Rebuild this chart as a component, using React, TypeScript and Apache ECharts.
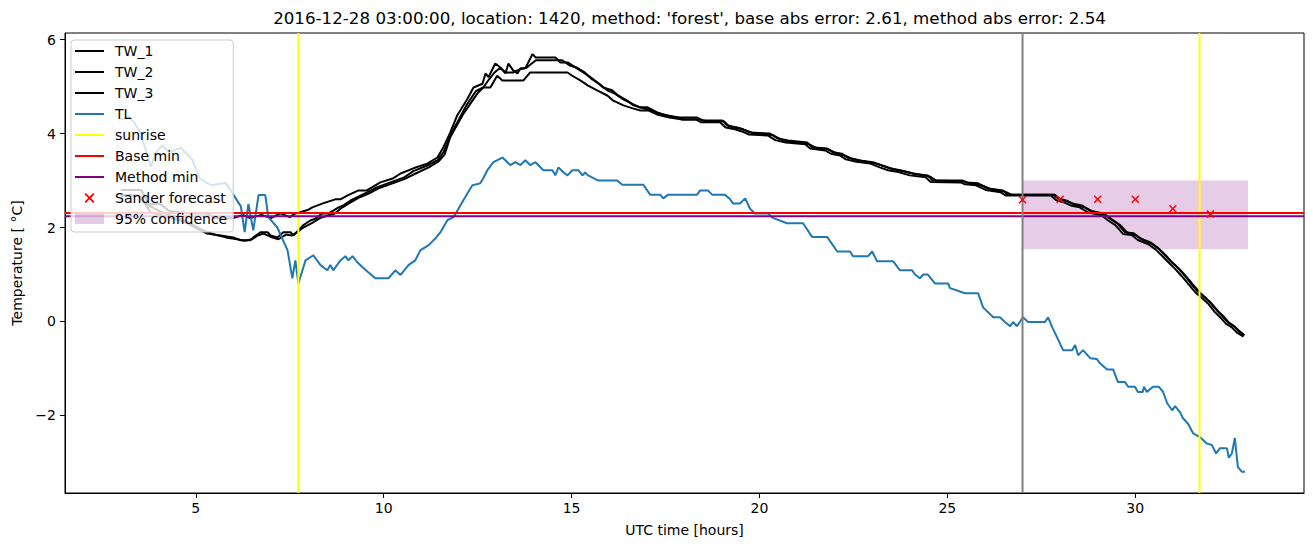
import React, { useEffect, useRef } from "react";
import * as echarts from "echarts";

// ---- data (hours, °C) ----
const TW_1: [number, number][] = [
  [3.0, 2.8], [3.55, 2.8], [3.75, 2.5], [4.05, 2.5], [4.3, 2.35], [4.9, 2.3], [5.3, 2.3], [5.5, 2.2], [6.0, 2.2],
  [6.25, 2.27], [6.45, 2.2], [6.75, 2.27], [7.0, 2.2], [7.25, 2.3], [7.5, 2.22], [7.65, 2.3], [8.0, 2.38], [8.1, 2.43],
  [8.4, 2.52], [8.71, 2.6], [8.85, 2.6], [9.03, 2.68], [9.33, 2.79], [9.55, 2.79], [9.7, 2.86], [9.91, 2.96],
  [10.26, 3.05], [10.45, 3.15], [10.79, 3.26], [11.16, 3.36], [11.43, 3.49], [11.59, 3.71], [11.77, 4.02],
  [11.96, 4.39], [12.23, 4.74], [12.39, 4.98], [12.63, 5.06], [12.71, 5.28], [12.79, 5.2], [12.97, 5.49],
  [13.1, 5.41], [13.24, 5.28], [13.32, 5.49], [13.45, 5.34], [13.56, 5.28], [13.64, 5.39], [13.77, 5.39],
  [13.96, 5.69], [14.04, 5.62], [14.57, 5.62], [14.7, 5.51], [14.91, 5.51], [15.1, 5.41], [15.31, 5.3],
  [15.5, 5.2], [15.68, 5.09], [15.84, 4.98], [16.08, 4.92], [16.24, 4.81], [16.48, 4.7], [16.65, 4.6],
  [16.83, 4.56], [17.01, 4.56], [17.28, 4.45], [17.54, 4.38], [17.89, 4.34], [18.34, 4.34], [18.5, 4.28],
  [19.01, 4.28], [19.14, 4.17], [19.41, 4.13], [19.57, 4.09], [19.75, 4.02], [20.28, 4.0], [20.47, 3.9],
  [20.76, 3.85], [21.27, 3.81], [21.4, 3.71], [21.8, 3.68], [21.96, 3.6], [22.2, 3.57], [22.33, 3.49],
  [22.62, 3.43], [23.02, 3.39], [23.26, 3.32], [23.47, 3.26], [23.74, 3.22], [24.06, 3.15], [24.48, 3.11],
  [24.61, 3.0], [25.41, 3.0], [25.52, 2.96], [25.82, 2.94], [26.08, 2.83], [26.48, 2.79], [26.61, 2.7],
  [27.81, 2.7], [27.95, 2.62], [28.18, 2.57], [28.32, 2.51], [28.58, 2.47], [28.8, 2.36], [29.15, 2.3],
  [29.33, 2.19], [29.52, 2.09], [29.73, 1.9], [29.95, 1.88], [30.13, 1.77], [30.39, 1.69], [30.58, 1.58],
  [30.74, 1.45], [30.92, 1.3], [31.11, 1.16], [31.27, 1.02], [31.46, 0.83], [31.64, 0.66], [31.8, 0.55],
  [31.99, 0.41], [32.17, 0.24], [32.3, 0.13], [32.46, -0.01], [32.6, -0.08], [32.73, -0.19], [32.9, -0.29],
];

const TW_2: [number, number][] = [
  [3.0, 2.68], [3.5, 2.68], [3.8, 2.32], [4.33, 2.21], [4.78, 2.09], [5.13, 1.94], [5.3, 1.87], [5.66, 1.83],
  [6.0, 1.79], [6.19, 1.73], [6.45, 1.73], [6.53, 1.79], [6.72, 1.9], [6.91, 1.9], [6.99, 1.83], [7.17, 1.79],
  [7.33, 1.9], [7.52, 1.9], [7.6, 1.83], [7.73, 1.94], [7.86, 2.05], [8.05, 2.15], [8.18, 2.19], [8.37, 2.3],
  [8.53, 2.3], [8.66, 2.36], [8.8, 2.43], [8.93, 2.47], [9.11, 2.57], [9.38, 2.68], [9.56, 2.75], [9.83, 2.86],
  [10.18, 2.96], [10.53, 3.06], [10.79, 3.2], [11.16, 3.32], [11.43, 3.43], [11.59, 3.6], [11.8, 4.0],
  [12.0, 4.3], [12.2, 4.6], [12.45, 4.9], [12.65, 4.98], [12.8, 5.15], [12.95, 5.3], [13.1, 5.4], [13.25, 5.3],
  [13.45, 5.3], [13.6, 5.36], [13.8, 5.4], [14.05, 5.56], [14.75, 5.56], [14.95, 5.45], [15.15, 5.4],
  [15.35, 5.3], [15.55, 5.15], [15.75, 5.05], [15.95, 4.92], [16.15, 4.85], [16.35, 4.74], [16.55, 4.66],
  [16.8, 4.56], [17.1, 4.5], [17.35, 4.42], [17.6, 4.38], [17.95, 4.3], [18.4, 4.3], [18.6, 4.26], [19.05, 4.26],
  [19.2, 4.15], [19.5, 4.1], [19.7, 4.05], [19.85, 4.0], [20.35, 3.97], [20.55, 3.88], [20.85, 3.82],
  [21.3, 3.78], [21.5, 3.7], [21.85, 3.66], [22.05, 3.58], [22.25, 3.54], [22.45, 3.47], [22.7, 3.42],
  [23.1, 3.36], [23.35, 3.3], [23.55, 3.24], [23.85, 3.2], [24.15, 3.14], [24.55, 3.08], [24.7, 3.0],
  [25.45, 2.98], [25.6, 2.94], [25.9, 2.9], [26.15, 2.82], [26.55, 2.76], [26.7, 2.7], [27.85, 2.7],
  [28.0, 2.6], [28.25, 2.54], [28.4, 2.48], [28.65, 2.43], [28.9, 2.33], [29.2, 2.27], [29.4, 2.16],
  [29.6, 2.05], [29.8, 1.88], [30.02, 1.83], [30.2, 1.74], [30.45, 1.65], [30.64, 1.54], [30.8, 1.42],
  [30.98, 1.26], [31.17, 1.12], [31.33, 0.98], [31.52, 0.8], [31.7, 0.63], [31.86, 0.51], [32.05, 0.36],
  [32.22, 0.2], [32.36, 0.1], [32.52, -0.05], [32.66, -0.12], [32.79, -0.22], [32.9, -0.3],
];

const TW_3: [number, number][] = [
  [3.0, 2.68], [3.45, 2.68], [3.7, 2.5], [4.0, 2.36], [4.5, 2.21], [4.85, 2.09], [5.2, 1.94], [5.5, 1.85],
  [5.8, 1.79], [6.1, 1.75], [6.3, 1.72], [6.5, 1.75], [6.65, 1.83], [6.8, 1.87], [7.0, 1.8], [7.2, 1.75],
  [7.4, 1.85], [7.55, 1.83], [7.7, 1.9], [7.86, 2.0], [8.1, 2.1], [8.3, 2.2], [8.5, 2.25], [8.7, 2.3],
  [8.85, 2.4], [9.11, 2.53], [9.38, 2.65], [9.6, 2.72], [9.85, 2.83], [10.2, 2.93], [10.55, 3.03],
  [10.85, 3.15], [11.2, 3.28], [11.45, 3.4], [11.62, 3.55], [11.77, 3.92], [12.12, 4.42], [12.49, 4.85],
  [12.65, 4.98], [12.84, 4.98], [13.02, 5.23], [13.16, 5.13], [13.72, 5.13], [13.9, 5.3], [14.89, 5.3],
  [15.02, 5.23], [15.23, 5.13], [15.44, 5.02], [15.68, 4.92], [15.95, 4.81], [16.11, 4.7], [16.38, 4.6],
  [16.65, 4.53], [16.83, 4.49], [17.05, 4.49], [17.3, 4.4], [17.6, 4.34], [17.95, 4.3], [18.3, 4.3],
  [18.45, 4.24], [18.95, 4.24], [19.1, 4.13], [19.35, 4.09], [19.55, 4.04], [19.72, 3.98], [20.22, 3.96],
  [20.42, 3.86], [20.7, 3.81], [21.22, 3.77], [21.35, 3.68], [21.75, 3.64], [21.9, 3.57], [22.15, 3.53],
  [22.3, 3.45], [22.58, 3.4], [22.95, 3.36], [23.2, 3.28], [23.42, 3.22], [23.7, 3.18], [24.0, 3.11],
  [24.42, 3.07], [24.56, 2.97], [25.36, 2.96], [25.47, 2.92], [25.76, 2.9], [26.02, 2.8], [26.42, 2.75],
  [26.56, 2.68], [27.75, 2.68], [27.9, 2.58], [28.12, 2.53], [28.28, 2.47], [28.52, 2.43], [28.75, 2.32],
  [29.1, 2.26], [29.28, 2.15], [29.47, 2.05], [29.68, 1.86], [29.9, 1.84], [30.08, 1.73], [30.34, 1.65],
  [30.53, 1.54], [30.7, 1.41], [30.88, 1.26], [31.06, 1.12], [31.22, 0.98], [31.42, 0.79], [31.6, 0.62],
  [31.76, 0.51], [31.95, 0.37], [32.12, 0.2], [32.26, 0.09], [32.42, -0.05], [32.56, -0.12], [32.7, -0.23],
  [32.88, -0.32],
];

const TL: [number, number][] = [
  [3.0, 4.3], [3.2, 4.35], [3.35, 4.25], [3.5, 4.05], [3.65, 3.7], [3.8, 3.3], [3.95, 3.6], [4.1, 3.75],
  [4.3, 3.6], [4.6, 3.7], [4.9, 3.45], [5.1, 3.05], [5.4, 2.9], [5.8, 2.95], [6.0, 2.7], [6.2, 2.45],
  [6.3, 1.9], [6.4, 2.5], [6.53, 1.94], [6.67, 2.69], [6.85, 2.69], [6.93, 2.22], [7.17, 2.0], [7.44, 1.52],
  [7.57, 0.92], [7.65, 1.3], [7.73, 0.81], [7.92, 1.3], [8.13, 1.41], [8.32, 1.2], [8.5, 1.09], [8.58, 1.2],
  [8.66, 1.09], [8.85, 1.3], [8.98, 1.39], [9.06, 1.3], [9.17, 1.39], [9.3, 1.26], [9.43, 1.16], [9.59, 1.05],
  [9.78, 0.92], [10.13, 0.92], [10.31, 1.09], [10.45, 0.99], [10.66, 1.2], [10.84, 1.3], [10.98, 1.52],
  [11.19, 1.62], [11.38, 1.77], [11.51, 1.9], [11.7, 2.16], [11.86, 2.22], [12.04, 2.47], [12.23, 2.73],
  [12.36, 2.9], [12.57, 2.94], [12.65, 3.05], [12.76, 3.22], [12.92, 3.39], [13.16, 3.49], [13.37, 3.33],
  [13.5, 3.39], [13.64, 3.33], [13.77, 3.43], [13.9, 3.33], [14.04, 3.39], [14.25, 3.22], [14.49, 3.22],
  [14.57, 3.11], [14.65, 3.28], [14.79, 3.17], [14.89, 3.11], [15.02, 3.22], [15.18, 3.22], [15.29, 3.11],
  [15.36, 3.17], [15.44, 3.11], [15.71, 3.0], [16.21, 3.0], [16.35, 2.91], [16.91, 2.91], [17.09, 2.7],
  [17.36, 2.7], [17.44, 2.62], [17.57, 2.7], [18.34, 2.7], [18.42, 2.79], [18.63, 2.79], [18.74, 2.7],
  [19.08, 2.7], [19.22, 2.6], [19.3, 2.51], [19.48, 2.51], [19.62, 2.62], [19.75, 2.4], [19.88, 2.3],
  [20.23, 2.3], [20.34, 2.21], [20.73, 2.09], [21.16, 2.09], [21.4, 1.8], [21.8, 1.8], [22.07, 1.49],
  [22.41, 1.49], [22.49, 1.39], [22.89, 1.39], [23.0, 1.49], [23.13, 1.28], [23.56, 1.28], [23.74, 1.09],
  [24.06, 1.09], [24.14, 1.0], [24.27, 0.92], [24.35, 1.0], [24.48, 1.0], [24.67, 0.81], [25.02, 0.81],
  [25.07, 0.71], [25.47, 0.6], [25.82, 0.6], [25.95, 0.3], [26.22, 0.09], [26.4, 0.09], [26.53, -0.01],
  [26.67, -0.1], [26.75, -0.01], [26.85, -0.1], [26.93, -0.01], [27.01, 0.09], [27.15, -0.01], [27.6, -0.01],
  [27.68, 0.09], [27.79, -0.12], [28.08, -0.61], [28.32, -0.61], [28.4, -0.5], [28.48, -0.72], [28.61, -0.61],
  [28.8, -0.78], [28.98, -0.8], [29.06, -0.89], [29.25, -1.02], [29.41, -1.02], [29.54, -1.29], [29.73, -1.29],
  [29.81, -1.39], [29.99, -1.39], [30.07, -1.5], [30.2, -1.5], [30.23, -1.39], [30.31, -1.5], [30.47, -1.39],
  [30.63, -1.39], [30.74, -1.5], [30.85, -1.74], [30.98, -1.89], [31.06, -1.8], [31.19, -1.93], [31.27, -2.06],
  [31.4, -2.17], [31.54, -2.38], [31.72, -2.46], [31.91, -2.6], [32.04, -2.63], [32.15, -2.81], [32.25, -2.7],
  [32.44, -2.7], [32.49, -2.9], [32.57, -2.81], [32.65, -2.48], [32.73, -3.1], [32.84, -3.2], [32.92, -3.2],
];

const sunriseHours = [7.73, 31.71];
const forecastStart = 27;
const baseMin = 2.31;
const methodMin = 2.24;
const sanderHours = [27, 28, 29, 30, 31, 32];
const sanderValues = [2.59, 2.6, 2.6, 2.6, 2.4, 2.29];
const confidenceBand = [27, 33, 1.54, 3.0]; // x0, x1, lower, upper

const xTicks = [5, 10, 15, 20, 25, 30];
const yTicks = [-2, 0, 2, 4, 6];
const X_MIN = 1.52, X_MAX = 34.49, Y_MIN = -3.65, Y_MAX = 6.14;

const titleText =
  "2016-12-28 03:00:00, location: 1420, method: 'forest', base abs error: 2.61, method abs error: 2.54";

const FONT = "DejaVu Sans";
const X_PATH =
  "path://M0,1.3L1.3,0L5,3.7L8.7,0L10,1.3L6.3,5L10,8.7L8.7,10L5,6.3L1.3,10L0,8.7L3.7,5Z";
const LINE_ICON = "path://M0,0L29,0L29,2L0,2Z";

export default function App() {
  const ref = useRef<HTMLDivElement>(null);
  useEffect(() => {
    if (!ref.current) return;
    const chart = echarts.init(ref.current, undefined, { renderer: "svg" });
    const lineSeries = (name: string, data: any, color: string, z = 2) => ({
      type: "line",
      name,
      data,
      symbol: "none",
      showSymbol: false,
      lineStyle: { color, width: 2 },
      itemStyle: { color },
      z,
    });
    const option: any = {
      animation: false,
      backgroundColor: "#fff",
      title: {
        text: titleText,
        left: 684.5,
        textAlign: "center",
        top: 4,
        textStyle: { fontFamily: FONT, fontSize: 16.7, fontWeight: "normal", color: "#000" },
      },
      grid: {
        left: 65,
        right: 9,
        top: 33,
        bottom: 54,
        show: true,
        borderColor: "#000",
        borderWidth: 1,
        backgroundColor: "transparent",
      },
      legend: {
        orient: "vertical",
        left: 71,
        top: 40,
        padding: [4, 6, 6, 4],
        itemWidth: 29,
        itemHeight: 10,
        itemGap: 7,
        backgroundColor: "rgba(255,255,255,0.8)",
        borderColor: "#cccccc",
        borderWidth: 1,
        borderRadius: 3,
        selectedMode: false,
        textStyle: { fontFamily: FONT, fontSize: 14, color: "#000", padding: [0, 0, 0, 6] },
        data: [
          { name: "TW_1", icon: LINE_ICON },
          { name: "TW_2", icon: LINE_ICON },
          { name: "TW_3", icon: LINE_ICON },
          { name: "TL", icon: LINE_ICON },
          { name: "sunrise", icon: LINE_ICON },
          { name: "Base min", icon: LINE_ICON },
          { name: "Method min", icon: LINE_ICON },
          { name: "Sander forecast", icon: X_PATH, itemStyle: { opacity: 1 } },
          { name: "95% confidence", icon: "rect" },
        ],
        z: 10,
      },
      xAxis: {
        type: "value",
        min: X_MIN,
        max: X_MAX,
        name: "UTC time [hours]",
        nameLocation: "middle",
        nameGap: 30,
        nameTextStyle: { fontFamily: FONT, fontSize: 14, color: "#000" },
        axisLine: { show: true, onZero: false, lineStyle: { color: "#000", width: 1 } },
        axisTick: { show: true, customValues: xTicks, length: 5, lineStyle: { color: "#000", width: 1 } },
        axisLabel: { customValues: xTicks, color: "#000", fontFamily: FONT, fontSize: 14, margin: 8 },
        splitLine: { show: false },
      },
      yAxis: {
        type: "value",
        min: Y_MIN,
        max: Y_MAX,
        name: "Temperature [ °C]",
        nameLocation: "middle",
        nameGap: 40,
        nameTextStyle: { fontFamily: FONT, fontSize: 14, color: "#000" },
        axisLine: { show: true, onZero: false, lineStyle: { color: "#000", width: 1 } },
        axisTick: { show: true, customValues: yTicks, length: 5, lineStyle: { color: "#000", width: 1 } },
        axisLabel: {
          customValues: yTicks,
          color: "#000",
          fontFamily: FONT,
          fontSize: 14,
          margin: 9,
          formatter: (v: number) => (v < 0 ? "\u2212" + Math.abs(v) : String(v)),
        },
        splitLine: { show: false },
      },
      series: [
        {
          type: "custom",
          name: "95% confidence",
          data: [confidenceBand],
          encode: { x: [0, 1], y: [2, 3] },
          itemStyle: { color: "rgba(128,0,128,0.2)" },
          z: 1,
          renderItem: (params: any, api: any) => {
            const p1 = api.coord([api.value(0), api.value(3)]);
            const p2 = api.coord([api.value(1), api.value(2)]);
            return {
              type: "rect",
              shape: { x: p1[0], y: p1[1], width: p2[0] - p1[0], height: p2[1] - p1[1] },
              style: { fill: "rgba(128,0,128,0.2)" },
            };
          },
        },
        lineSeries("TW_1", TW_1, "#000000"),
        lineSeries("TW_2", TW_2, "#000000"),
        lineSeries("TW_3", TW_3, "#000000"),
        lineSeries("TL", TL, "#1f77b4"),
        ...sunriseHours.map((h) =>
          lineSeries("sunrise", [[h, Y_MIN], [h, Y_MAX]], "#ffff00", 3)
        ),
        lineSeries("Base min", [[X_MIN, baseMin], [X_MAX, baseMin]], "#ff0000", 3),
        lineSeries("Method min", [[X_MIN, methodMin], [X_MAX, methodMin]], "#800080", 3),
        lineSeries("forecast start", [[forecastStart, Y_MIN], [forecastStart, Y_MAX]], "#808080", 3),
        {
          type: "scatter",
          name: "Sander forecast",
          data: sanderHours.map((h, i) => [h, sanderValues[i]]),
          symbol: X_PATH,
          symbolSize: 8,
          itemStyle: { color: "#ff0000", opacity: 1 },
          z: 4,
        },
      ],
    };
    chart.setOption(option);
    return () => chart.dispose();
  }, []);
  return (
    <div
      ref={ref}
      style={{ position: "fixed", left: 0, top: 0, width: 1313, height: 547, background: "#fff" }}
    />
  );
}
